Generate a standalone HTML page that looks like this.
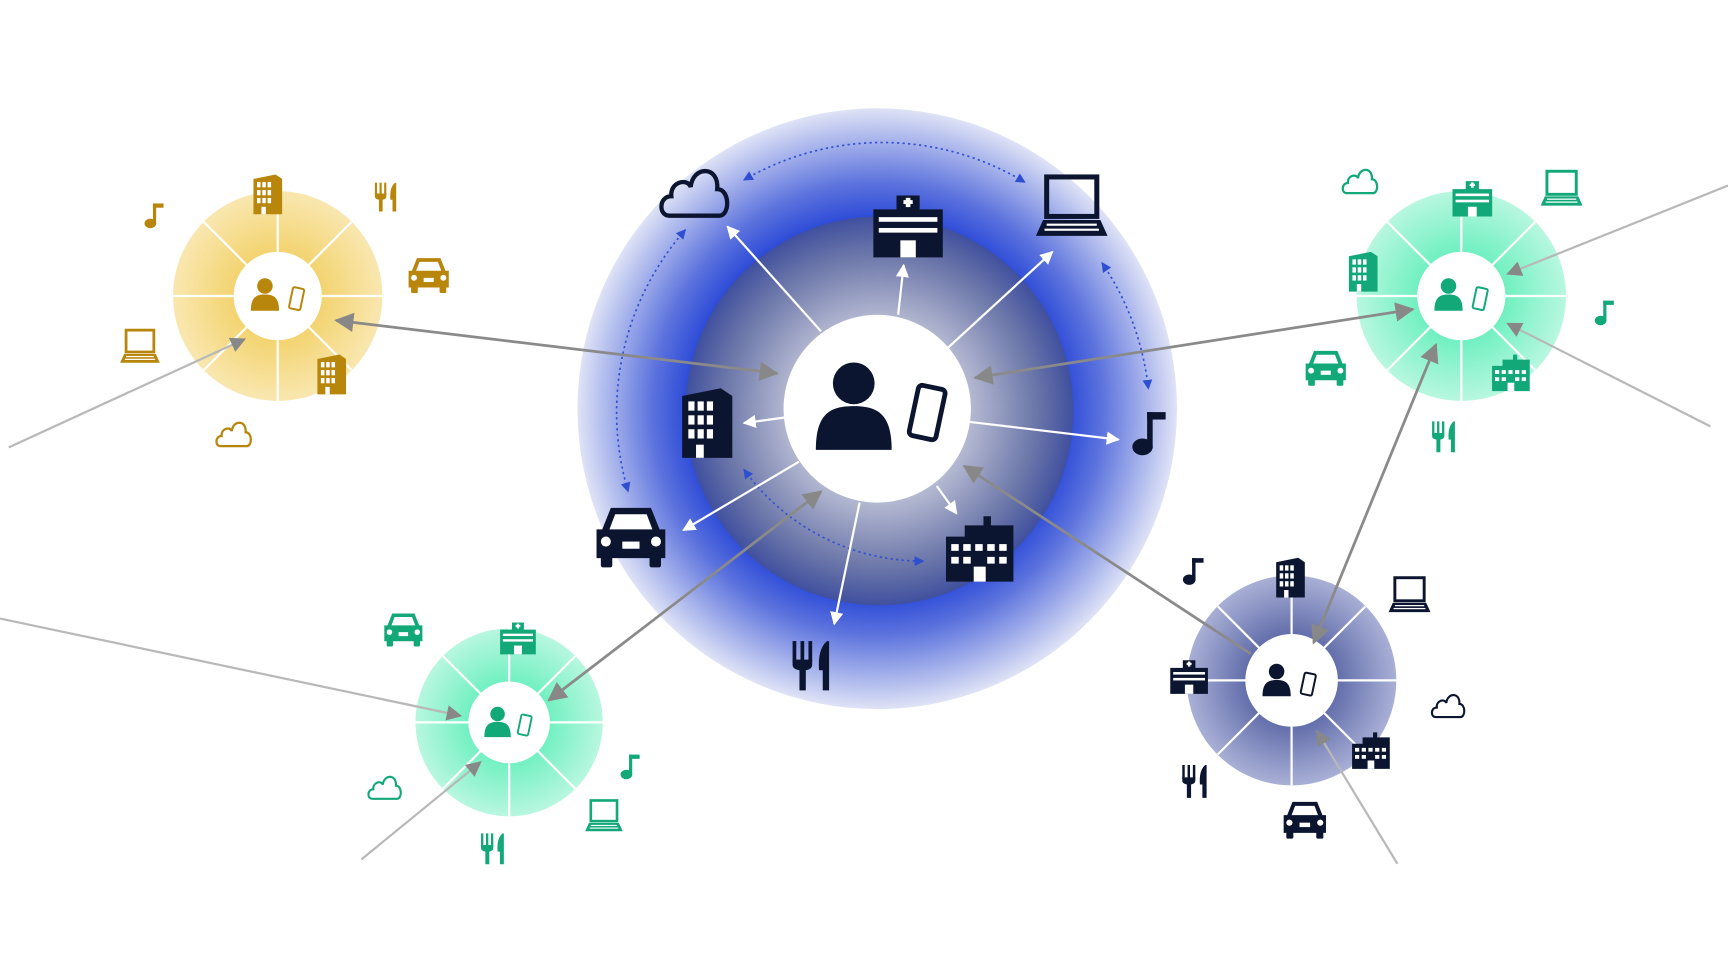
<!DOCTYPE html>
<html><head><meta charset="utf-8"><style>html,body{margin:0;padding:0;background:#fff;overflow:hidden}svg{display:block}</style></head><body>
<svg width="1728" height="972" viewBox="0 0 1568 880" preserveAspectRatio="none" xmlns="http://www.w3.org/2000/svg">
<defs>
<radialGradient id="outer" cx="0.5" cy="0.5" r="0.5">
<stop offset="0.6" stop-color="#1f3fd6"/><stop offset="0.75" stop-color="#5b72dd"/><stop offset="1" stop-color="#dfe3f6"/></radialGradient>
<radialGradient id="inner" cx="0.5" cy="0.5" r="0.5">
<stop offset="0.45" stop-color="#b9bdd4"/><stop offset="0.8" stop-color="#6d78aa"/><stop offset="1" stop-color="#40509e"/></radialGradient>
<radialGradient id="yel" cx="0.5" cy="0.5" r="0.5"><stop offset="0.4" stop-color="#f3d36e"/><stop offset="1" stop-color="#f9e7b0"/></radialGradient>
<radialGradient id="grn" cx="0.5" cy="0.5" r="0.5"><stop offset="0.4" stop-color="#6ef0c0"/><stop offset="1" stop-color="#b8f7e0"/></radialGradient>
<radialGradient id="nav" cx="0.5" cy="0.5" r="0.5"><stop offset="0.4" stop-color="#5e6aa8"/><stop offset="1" stop-color="#a9b0d6"/></radialGradient>
<marker id="ag" viewBox="0 0 10 10" refX="9" refY="5" markerWidth="7" markerHeight="7" orient="auto-start-reverse"><path d="M0,0L10,5L0,10z" fill="#888"/></marker>
<marker id="aw" viewBox="0 0 10 10" refX="9" refY="5" markerWidth="6" markerHeight="6" orient="auto-start-reverse"><path d="M0,0L10,5L0,10z" fill="#fff"/></marker>
<marker id="ab" viewBox="0 0 10 10" refX="9" refY="5" markerWidth="6" markerHeight="6" orient="auto-start-reverse"><path d="M0,0L10,5L0,10z" fill="#2f4fd0"/></marker>
<symbol id="person" viewBox="0 0 100 100"><circle cx="45" cy="28" r="22"/><path d="M5,98 C5,60 20,52 45,52 C70,52 85,60 85,98Z"/></symbol>
<symbol id="phone" viewBox="0 0 100 100"><rect x="30" y="10" width="40" height="75" rx="6" transform="rotate(12 50 50)" fill="#fff" stroke="currentColor" stroke-width="7"/></symbol>
<symbol id="bld" viewBox="0 0 100 100"><path d="M20,15 L70,5 L85,15 L85,95 L20,95Z"/><g fill="#fff"><rect x="28" y="22" width="8" height="12"/><rect x="40" y="22" width="8" height="12"/><rect x="52" y="22" width="8" height="12"/><rect x="28" y="40" width="8" height="12"/><rect x="40" y="40" width="8" height="12"/><rect x="52" y="40" width="8" height="12"/><rect x="28" y="58" width="8" height="12"/><rect x="40" y="58" width="8" height="12"/><rect x="52" y="58" width="8" height="12"/><rect x="38" y="78" width="10" height="17"/></g></symbol>
<symbol id="hosp" viewBox="0 0 100 100"><path d="M35,10 H65 V28 H95 V90 H5 V28 H35Z"/><g fill="#fff"><rect x="47" y="13" width="6" height="12"/><rect x="44" y="16" width="12" height="5"/><rect x="12" y="38" width="76" height="6"/><rect x="12" y="52" width="76" height="6"/><rect x="40" y="68" width="20" height="22"/></g></symbol>
<symbol id="office" viewBox="0 0 100 100"><path d="M30,20 H55 V8 H65 V20 H95 V95 H5 V35 H30Z"/><g fill="#fff"><rect x="12" y="45" width="10" height="9"/><rect x="28" y="45" width="10" height="9"/><rect x="44" y="45" width="10" height="9"/><rect x="60" y="45" width="10" height="9"/><rect x="76" y="45" width="10" height="9"/><rect x="12" y="62" width="10" height="9"/><rect x="28" y="62" width="10" height="9"/><rect x="60" y="62" width="10" height="9"/><rect x="76" y="62" width="10" height="9"/><rect x="42" y="75" width="16" height="20"/></g></symbol>
<symbol id="laptop" viewBox="0 0 100 100"><rect x="15" y="8" width="70" height="55" fill="none" stroke="currentColor" stroke-width="7"/><path d="M10,68 H90 L100,90 H0Z"/><g fill="#fff"><rect x="15" y="73" width="70" height="3"/><rect x="12" y="80" width="76" height="3"/></g></symbol>
<symbol id="car" viewBox="0 0 100 100"><path d="M22,15 H78 L90,45 H98 V85 H2 V45 H10Z"/><rect x="8" y="82" width="16" height="16" rx="3"/><rect x="76" y="82" width="16" height="16" rx="3"/><g fill="#fff"><path d="M28,24 H72 L80,45 H20Z"/><circle cx="15" cy="62" r="7"/><circle cx="85" cy="62" r="7"/><rect x="38" y="62" width="24" height="10"/></g></symbol>
<symbol id="cloud" viewBox="0 0 100 100"><path d="M15,85 C0,85 0,58 18,58 C16,38 40,32 45,45 C48,15 85,15 82,48 C100,48 100,85 85,85Z" fill="none" stroke="currentColor" stroke-width="6"/></symbol>
<symbol id="note" viewBox="0 0 100 100"><ellipse cx="35" cy="80" rx="22" ry="18"/><rect x="45" y="5" width="12" height="78"/><rect x="45" y="5" width="40" height="16"/></symbol>
<symbol id="fork" viewBox="0 0 100 100"><rect x="15" y="5" width="7" height="40"/><rect x="30" y="5" width="7" height="40"/><rect x="45" y="5" width="7" height="40"/><path d="M15,40 H52 V50 Q52,58 40,60 V98 H28 V60 Q15,58 15,50Z"/><path d="M80,5 Q62,20 65,60 H72 V98 H84 V5Z"/></symbol>
</defs>

<!-- main -->
<circle cx="796" cy="370" r="272" fill="url(#outer)"/>
<circle cx="798" cy="372" r="176" fill="url(#inner)"/>
<g fill="none" stroke="#2f4fd0" stroke-width="1.5" stroke-dasharray="2,3">
<path d="M675,163 A250,250 0 0 1 930,165" marker-start="url(#ab)" marker-end="url(#ab)"/>
<path d="M1000,238 A250,250 0 0 1 1042,352" marker-start="url(#ab)" marker-end="url(#ab)"/>
<path d="M622,208 A250,250 0 0 0 570,445" marker-start="url(#ab)" marker-end="url(#ab)"/>
<path d="M675,425 A200,200 0 0 0 838,508" marker-start="url(#ab)" marker-end="url(#ab)"/>
</g>
<g stroke="#fff" stroke-width="2" marker-end="url(#aw)">
<line x1="745" y1="300" x2="660" y2="205"/><line x1="815" y1="285" x2="820" y2="240"/>
<line x1="860" y1="315" x2="955" y2="228"/><line x1="880" y1="382" x2="1015" y2="398"/>
<line x1="712" y1="378" x2="675" y2="383"/><line x1="725" y1="418" x2="620" y2="480"/>
<line x1="850" y1="440" x2="868" y2="465"/><line x1="780" y1="455" x2="757" y2="565"/>
</g>
<circle cx="796" cy="370" r="85" fill="#fff"/>
<g fill="#0c1530" color="#0c1530">
<use href="#person" x="736" y="312" width="86" height="108"/>
<use href="#phone" x="810" y="340" width="62" height="70"/>
<use href="#cloud" x="586" y="140" width="88" height="65"/>
<use href="#hosp" x="778" y="170" width="92" height="70"/>
<use href="#laptop" x="930" y="155" width="85" height="65"/>
<use href="#note" x="1022" y="362" width="42" height="60"/>
<use href="#bld" x="605" y="343" width="70" height="80"/>
<use href="#car" x="530" y="450" width="85" height="65"/>
<use href="#office" x="843" y="462" width="92" height="68"/>
<use href="#fork" x="712" y="568" width="48" height="68"/>
</g>

<!-- yellow satellite -->
<g>
<circle cx="252" cy="268" r="95" fill="url(#yel)"/>
<g stroke="#fff" stroke-width="2"><line x1="252" y1="173" x2="252" y2="363"/><line x1="157" y1="268" x2="347" y2="268" /><line x1="185" y1="201" x2="319" y2="335"/><line x1="319" y1="201" x2="185" y2="335"/></g>
<circle cx="252" cy="268" r="40" fill="#fff"/>
<g fill="#b8860b" color="#b8860b">
<use href="#person" x="226" y="245" width="32" height="42"/><use href="#phone" x="256" y="255" width="26" height="32"/>
<use href="#bld" x="222" y="155" width="40" height="42"/><use href="#fork" x="336" y="160" width="28" height="36"/>
<use href="#note" x="128" y="178" width="24" height="34"/><use href="#car" x="366" y="228" width="46" height="38"/>
<use href="#laptop" x="104" y="296" width="46" height="36"/><use href="#bld" x="280" y="318" width="40" height="42"/>
<use href="#cloud" x="188" y="375" width="48" height="34"/>
</g></g>

<!-- green TR -->
<g>
<circle cx="1326" cy="268" r="95" fill="url(#grn)"/>
<g stroke="#fff" stroke-width="2"><line x1="1326" y1="173" x2="1326" y2="363"/><line x1="1231" y1="268" x2="1421" y2="268"/><line x1="1259" y1="201" x2="1393" y2="335"/><line x1="1393" y1="201" x2="1259" y2="335"/></g>
<circle cx="1326" cy="268" r="40" fill="#fff"/>
<g fill="#12a878" color="#12a878">
<use href="#person" x="1300" y="245" width="32" height="42"/><use href="#phone" x="1330" y="255" width="26" height="32"/>
<use href="#hosp" x="1310" y="160" width="52" height="40"/><use href="#laptop" x="1394" y="152" width="46" height="38"/>
<use href="#cloud" x="1210" y="146" width="48" height="34"/><use href="#bld" x="1216" y="225" width="40" height="42"/>
<use href="#note" x="1444" y="266" width="24" height="34"/><use href="#car" x="1180" y="312" width="46" height="38"/>
<use href="#office" x="1345" y="318" width="52" height="38"/><use href="#fork" x="1295" y="376" width="30" height="38"/>
</g></g>

<!-- green BL -->
<g>
<circle cx="462" cy="654" r="85" fill="url(#grn)"/>
<g stroke="#fff" stroke-width="2"><line x1="462" y1="569" x2="462" y2="739"/><line x1="377" y1="654" x2="547" y2="654"/><line x1="402" y1="594" x2="522" y2="714"/><line x1="522" y1="594" x2="402" y2="714"/></g>
<circle cx="462" cy="654" r="37" fill="#fff"/>
<g fill="#12a878" color="#12a878">
<use href="#person" x="438" y="634" width="30" height="38"/><use href="#phone" x="464" y="642" width="24" height="30"/>
<use href="#hosp" x="446" y="560" width="48" height="36"/><use href="#car" x="344" y="550" width="44" height="36"/>
<use href="#note" x="560" y="678" width="24" height="32"/><use href="#laptop" x="526" y="722" width="44" height="34"/>
<use href="#cloud" x="326" y="696" width="46" height="32"/><use href="#fork" x="432" y="750" width="30" height="36"/>
</g></g>

<!-- navy BR -->
<g>
<circle cx="1172" cy="616" r="95" fill="url(#nav)"/>
<g stroke="#fff" stroke-width="2"><line x1="1172" y1="521" x2="1172" y2="711"/><line x1="1077" y1="616" x2="1267" y2="616"/><line x1="1105" y1="549" x2="1239" y2="683"/><line x1="1239" y1="549" x2="1105" y2="683"/></g>
<circle cx="1172" cy="616" r="42" fill="#fff"/>
<g fill="#0c1530" color="#0c1530">
<use href="#person" x="1144" y="594" width="32" height="42"/><use href="#phone" x="1174" y="604" width="26" height="32"/>
<use href="#bld" x="1150" y="502" width="40" height="42"/><use href="#note" x="1070" y="500" width="26" height="34"/>
<use href="#laptop" x="1256" y="520" width="46" height="38"/><use href="#hosp" x="1052" y="594" width="54" height="38"/>
<use href="#cloud" x="1290" y="622" width="48" height="32"/><use href="#office" x="1218" y="660" width="52" height="38"/>
<use href="#fork" x="1068" y="688" width="32" height="38"/><use href="#car" x="1160" y="720" width="48" height="40"/>
</g></g>

<!-- gray connectors (on top) -->
<g stroke="#8a8a8a" stroke-width="2.5" fill="none">
<line x1="305" y1="290" x2="705" y2="338" marker-start="url(#ag)" marker-end="url(#ag)"/>
<line x1="885" y1="342" x2="1282" y2="280" marker-start="url(#ag)" marker-end="url(#ag)"/>
<line x1="498" y1="634" x2="745" y2="445" marker-start="url(#ag)" marker-end="url(#ag)"/>
<line x1="875" y1="422" x2="1135" y2="592" marker-start="url(#ag)"/>
<line x1="1303" y1="312" x2="1192" y2="582" marker-start="url(#ag)" marker-end="url(#ag)"/>
</g>
<g stroke="#b8b8b8" stroke-width="2" fill="none" marker-end="url(#ag)">
<line x1="8" y1="405" x2="222" y2="307"/>
<line x1="1568" y1="168" x2="1368" y2="248"/>
<line x1="1552" y1="386" x2="1368" y2="293"/>
<line x1="0" y1="560" x2="418" y2="648"/>
<line x1="328" y1="778" x2="436" y2="690"/>
<line x1="1268" y1="782" x2="1195" y2="662"/>
</g>
</svg>
</body></html>
